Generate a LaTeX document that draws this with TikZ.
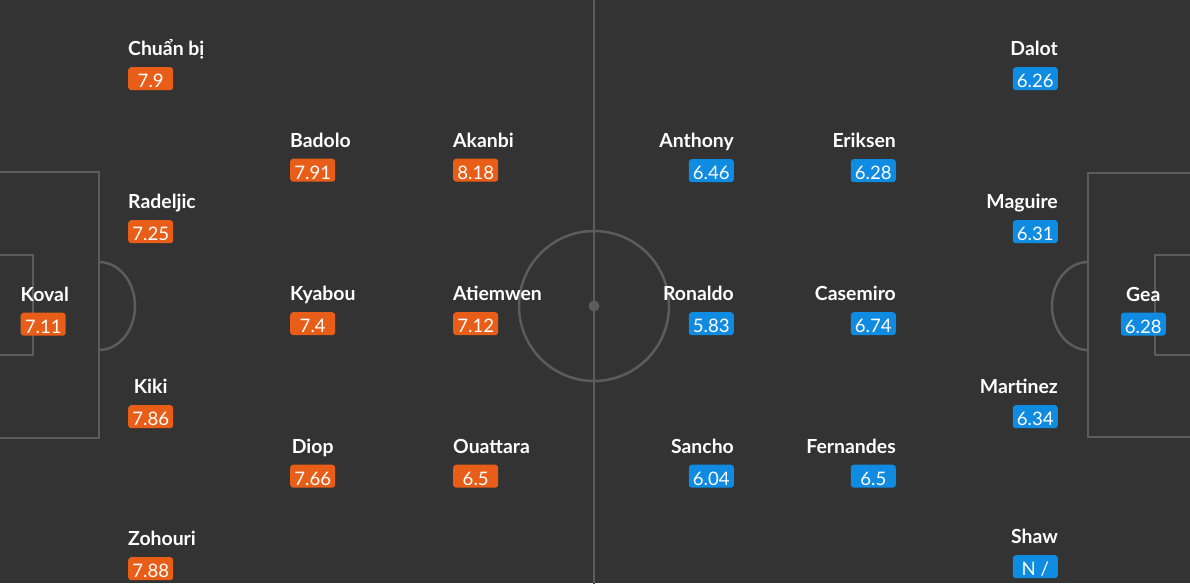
\documentclass[tikz,border=0pt]{standalone}
\usepackage{fontspec}
\setmainfont{Lato}
\definecolor{bgc}{HTML}{333333}
\definecolor{linec}{HTML}{5C5C5C}
\definecolor{homec}{RGB}{232,94,24}
\definecolor{awayc}{RGB}{16,139,226}
\newcommand\hplayer[5]{%
  \node[lname] (#1n) at ({#2},{#3-11.5}) {#4};
  \node[homebadge] (#1r) at ({#2},{#3}) {#5};}
\newcommand\aplayer[5]{%
  \node[rname] (#1n) at ({#2},{#3-11.5}) {#4};
  \node[awaybadge] (#1r) at ({#2},{#3}) {#5};}
\begin{document}
\begin{tikzpicture}[x=1pt,y=-1pt,
  fieldline/.style={draw=linec,line width=2.5pt},
  pname/.style={font=\bfseries\fontsize{19.4}{19.4}\selectfont,text=white,inner sep=0pt,minimum width=45pt},
  lname/.style={pname,anchor=base west},
  rname/.style={pname,anchor=base east},
  badge/.style={font=\fontsize{18.6}{18.6}\selectfont,text=white,inner sep=0pt,
    minimum width=45pt,minimum height=23pt,rounded corners=3pt,text height=18pt,text depth=0pt},
  homebadge/.style={badge,fill=homec,anchor=north west},
  awaybadge/.style={badge,fill=awayc,anchor=north east}]
\useasboundingbox (0,0) rectangle (1190,583);
\fill[bgc] (0,0) rectangle (1190,583);
% field
\draw[fieldline] (594,-5) -- (594,590);
\draw[fieldline] (594,306) circle[radius=75];
\fill[linec] (594,306) circle[radius=5.5];
\draw[fieldline] (-5,172) rectangle (99,438);
\draw[fieldline] (-5,255) rectangle (33,355);
\draw[fieldline] (1088,173) rectangle (1195,437);
\draw[fieldline] (1155,255) rectangle (1195,355);
\begin{scope}
  \clip (99,200) rectangle (200,400);
  \draw[fieldline] (99,306) ellipse[x radius=36,y radius=44];
\end{scope}
\begin{scope}
  \clip (1000,200) rectangle (1088,400);
  \draw[fieldline] (1088,306) ellipse[x radius=36,y radius=44];
\end{scope}
% home team
\hplayer{chuan}{128}{67}{Chuẩn bị}{7.9}
\hplayer{radeljic}{128}{220}{Radeljic}{7.25}
\hplayer{kiki}{128}{405}{Kiki}{7.86}
\hplayer{zohouri}{128}{557}{Zohouri}{7.88}
\hplayer{koval}{20.5}{312.5}{Koval}{7.11}
\hplayer{badolo}{290}{158.5}{Badolo}{7.91}
\hplayer{kyabou}{290}{312}{Kyabou}{7.4}
\hplayer{diop}{290}{464.5}{Diop}{7.66}
\hplayer{akanbi}{453}{158.5}{Akanbi}{8.18}
\hplayer{atiemwen}{453}{312}{Atiemwen}{7.12}
\hplayer{ouattara}{453}{464.5}{Ouattara}{6.5}
% away team
\aplayer{dalot}{1058}{67}{Dalot}{6.26}
\aplayer{maguire}{1058}{220}{Maguire}{6.31}
\aplayer{martinez}{1058}{405}{Martinez}{6.34}
\aplayer{shaw}{1058}{555}{Shaw}{N /}
\aplayer{gea}{1166}{312.5}{Gea}{6.28}
\aplayer{anthony}{734}{159}{Anthony}{6.46}
\aplayer{ronaldo}{734}{312}{Ronaldo}{5.83}
\aplayer{sancho}{734}{464.5}{Sancho}{6.04}
\aplayer{eriksen}{896}{159}{Eriksen}{6.28}
\aplayer{casemiro}{896}{312}{Casemiro}{6.74}
\aplayer{fernandes}{896}{464.5}{Fernandes}{6.5}
\end{tikzpicture}
\end{document}
